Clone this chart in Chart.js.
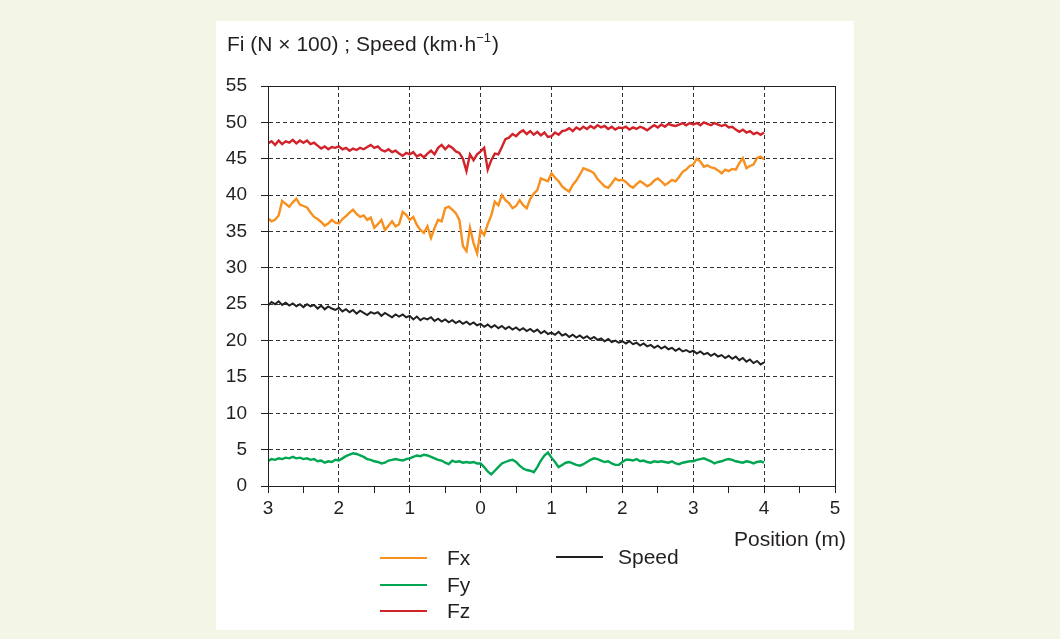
<!DOCTYPE html>
<html>
<head>
<meta charset="utf-8">
<script src="https://cdn.jsdelivr.net/npm/chart.js@4.4.1/dist/chart.umd.min.js"></script>
<style>
  html, body { margin: 0; padding: 0; background: #f3f6e7; }
  #panel { position: absolute; left: 216px; top: 21px; width: 638px; height: 609px; background: #fff; }
</style>
</head>
<body>
<div id="panel"><canvas id="forceChart"></canvas></div>
<script>
// position along the track (m), one sample every 5 cm
const positions = [
  -3, -2.95, -2.9, -2.85, -2.8, -2.75, -2.7, -2.65, -2.6, -2.55,
  -2.5, -2.45, -2.4, -2.35, -2.3, -2.25, -2.2, -2.15, -2.1, -2.05,
  -2, -1.95, -1.9, -1.85, -1.8, -1.75, -1.7, -1.65, -1.6, -1.55,
  -1.5, -1.45, -1.4, -1.35, -1.3, -1.25, -1.2, -1.15, -1.1, -1.05,
  -1, -0.95, -0.9, -0.85, -0.8, -0.75, -0.7, -0.65, -0.6, -0.55,
  -0.5, -0.45, -0.4, -0.35, -0.3, -0.25, -0.2, -0.15, -0.1, -0.05,
  0, 0.05, 0.1, 0.15, 0.2, 0.25, 0.3, 0.35, 0.4, 0.45,
  0.5, 0.55, 0.6, 0.65, 0.7, 0.75, 0.8, 0.85, 0.9, 0.95,
  1, 1.05, 1.1, 1.15, 1.2, 1.25, 1.3, 1.35, 1.4, 1.45,
  1.5, 1.55, 1.6, 1.65, 1.7, 1.75, 1.8, 1.85, 1.9, 1.95,
  2, 2.05, 2.1, 2.15, 2.2, 2.25, 2.3, 2.35, 2.4, 2.45,
  2.5, 2.55, 2.6, 2.65, 2.7, 2.75, 2.8, 2.85, 2.9, 2.95,
  3, 3.05, 3.1, 3.15, 3.2, 3.25, 3.3, 3.35, 3.4, 3.45,
  3.5, 3.55, 3.6, 3.65, 3.7, 3.75, 3.8, 3.85, 3.9, 3.95,
  4
];

const fx = [
  36.8, 36.4, 36.6, 37.2, 39.2, 38.8, 38.4, 39.0, 39.5, 38.7,
  38.5, 38.3, 37.6, 37.0, 36.7, 36.3, 35.8, 36.1, 36.6, 36.2,
  36.1, 36.7, 37.1, 37.6, 38.0, 37.4, 37.0, 37.2, 36.6, 36.9,
  35.5, 36.0, 36.6, 35.2, 35.8, 36.4, 35.7, 36.0, 37.7, 37.3,
  36.6, 37.0, 35.9, 35.2, 34.8, 35.7, 34.1, 35.5, 36.6, 36.4,
  38.2, 38.4, 38.0, 37.5, 36.6, 33.0, 32.3, 35.5, 33.4, 32.0,
  35.2, 34.5, 36.0, 37.2, 39.1, 38.6, 40.0, 39.3, 38.9, 38.2,
  38.5, 39.3, 38.6, 38.2, 39.5, 40.2, 40.7, 42.3, 42.1, 41.9,
  43.0, 42.4, 41.9, 41.2, 40.8, 40.5, 41.4, 42.0, 42.8, 43.7,
  43.5, 43.3, 43.0, 42.2, 41.7, 41.2, 41.0, 41.6, 42.3, 42.0,
  42.1, 41.8, 41.3, 41.0, 41.5, 41.9, 41.6, 41.2, 41.5, 42.0,
  42.3, 41.9, 41.4, 41.7, 42.1, 41.9, 42.5, 43.2, 43.5, 44.0,
  44.2, 45.0, 44.6, 43.9, 44.1, 43.8, 43.7, 43.4, 43.0, 43.5,
  43.3, 43.6, 43.5, 44.4, 45.1, 43.7, 44.0, 44.2, 45.1, 45.3,
  44.9
];

const fy = [
  3.4, 3.7, 3.6, 3.8, 3.7, 3.9, 3.8, 4.0, 3.8, 3.9,
  3.7, 3.8, 3.6, 3.7, 3.4, 3.5, 3.2, 3.4, 3.3, 3.6,
  3.5, 3.8, 4.1, 4.3, 4.5, 4.4, 4.2, 4.0, 3.7, 3.6,
  3.4, 3.3, 3.1, 3.2, 3.5, 3.6, 3.7, 3.6, 3.5, 3.7,
  3.8, 4.0, 4.2, 4.1, 4.3, 4.2, 4.0, 3.8, 3.6, 3.5,
  3.2, 3.0, 3.5, 3.3, 3.4, 3.2, 3.3, 3.2, 3.3, 3.1,
  3.1, 2.6, 2.0, 1.6, 2.1, 2.6, 3.1, 3.3, 3.5, 3.6,
  3.3, 2.8, 2.4, 2.2, 2.1, 1.9, 2.6, 3.5, 4.2, 4.6,
  3.9, 3.3, 2.6, 2.9, 3.2, 3.3, 3.1, 2.9, 2.8, 3.0,
  3.3, 3.6, 3.8, 3.7, 3.5, 3.3, 3.4, 3.1, 2.9, 2.9,
  3.3, 3.6, 3.6, 3.5, 3.7, 3.4, 3.5, 3.3, 3.2, 3.4,
  3.3, 3.4, 3.3, 3.2, 3.4, 3.1, 3.0, 3.2, 3.3, 3.4,
  3.4, 3.6, 3.7, 3.8, 3.6, 3.4, 3.1, 3.3, 3.4, 3.6,
  3.7, 3.6, 3.4, 3.3, 3.2, 3.4, 3.3, 3.1, 3.3, 3.4,
  3.2
];

const fz = [
  47.1, 47.4, 46.9, 47.5, 47.0, 47.4, 47.2, 47.6, 47.1, 47.5,
  47.2, 47.5, 47.0, 47.2, 46.8, 46.4, 46.7, 46.3, 46.6, 46.5,
  46.7, 46.3, 46.5, 46.1, 46.4, 46.2, 46.5, 46.3, 46.6, 46.9,
  46.5, 46.7, 46.2, 46.0, 46.3, 45.9, 46.1, 45.7, 45.4, 45.8,
  45.6, 45.9, 45.3, 45.6, 45.2, 45.7, 46.1, 45.6, 46.5, 46.9,
  46.3, 46.8, 46.5, 46.0, 45.8, 45.0, 43.3, 45.6, 44.8, 45.6,
  46.0, 46.5, 43.5, 44.8, 45.7, 45.6, 46.6, 47.7, 47.9, 48.4,
  48.1, 48.6, 48.9, 48.4, 48.8, 48.3, 48.7, 48.2, 48.6, 48.0,
  48.1, 48.6, 48.3, 48.8, 48.9, 49.2, 48.8, 49.3, 49.0, 49.4,
  49.1, 49.5, 49.2, 49.6, 49.3, 49.5, 49.1, 49.4, 49.0, 49.3,
  49.2, 49.4, 49.0, 49.3, 49.1, 49.4, 49.2, 48.9, 49.3, 49.6,
  49.3, 49.7, 49.4, 49.8, 49.6, 49.5, 49.7, 49.9, 49.6, 49.9,
  49.7, 49.9, 49.6, 50.0, 49.8, 49.6, 49.9, 49.7, 49.5, 49.7,
  49.3, 49.4, 49.0, 48.7, 49.0, 48.6, 48.8, 48.4, 48.6, 48.3,
  48.6
];

const speed = [
  24.8, 25.3, 25.0, 25.4, 24.9, 25.2, 24.8, 25.1, 24.7, 25.0,
  24.6, 25.0, 24.7, 24.9, 24.4, 24.8, 24.3, 24.7, 24.4, 24.2,
  24.5, 24.0, 24.3, 23.9, 24.2, 23.7, 24.1, 23.8, 23.5, 23.9,
  23.7, 23.9, 23.4, 23.8, 23.5, 23.2, 23.6, 23.3, 23.6, 23.2,
  23.4, 22.9, 23.3, 22.8, 23.1, 22.9, 23.2, 22.7, 23.0, 22.6,
  22.9, 22.5, 22.8, 22.4, 22.7, 22.3, 22.6, 22.2, 22.5, 22.1,
  22.3, 21.9, 22.2, 21.8, 22.1, 21.7, 22.0, 21.6, 21.9, 21.5,
  21.8, 21.4, 21.7, 21.3, 21.6, 21.2, 21.5, 21.0, 21.3, 20.9,
  21.1, 20.8, 21.2, 20.7, 20.9, 20.5, 20.8, 20.4, 20.7, 20.3,
  20.6, 20.2, 20.5, 20.1, 20.3, 19.9, 20.2, 19.8, 20.0, 19.7,
  19.9, 19.6, 19.9, 19.5, 19.7, 19.3, 19.6, 19.2, 19.4, 19.0,
  19.3, 18.9, 19.2, 18.8, 19.0, 18.6, 18.9, 18.5, 18.7, 18.4,
  18.6, 18.2, 18.5, 18.1, 18.3, 17.9, 18.2, 17.8, 18.0, 17.6,
  17.9, 17.5, 17.8, 17.3, 17.6, 17.1, 17.4, 16.9, 17.2, 16.7,
  17.0
];

// x axis runs through the start line: distances shown without sign
const xTickLabels = ['3', '2', '1', '0', '1', '2', '3', '4', '5'];
const yTickLabels = ['0', '5', '10', '15', '20', '25', '30', '35', '40', '45', '50', '55'];

const textColor = '#231f20';
const fontFamily = '"Liberation Sans", Arial, sans-serif';

function toPoints(values) {
    return positions.map((x, i) => ({ x, y: values[i] }));
}

// title, axis name, box outline and the two-column legend
const decorPlugin = {
    id: 'decor',
    afterDraw(chart) {
        const { ctx, chartArea: a } = chart;
        ctx.save();
        ctx.strokeStyle = textColor;
        ctx.lineWidth = 1;
        ctx.setLineDash([]);
        ctx.strokeRect(a.left + 0.5, a.top + 0.5, a.right - a.left, a.bottom - a.top);

        ctx.fillStyle = textColor;
        ctx.textBaseline = 'alphabetic';
        ctx.textAlign = 'left';
        let x = 11;
        const y = 30;
        const main = 'Fi (N \u00d7 100) ; Speed (km\u00b7h';
        ctx.font = '21px ' + fontFamily;
        ctx.fillText(main, x, y);
        x += ctx.measureText(main).width;
        ctx.font = '13px ' + fontFamily;
        ctx.fillText('\u22121', x, y - 9);
        x += ctx.measureText('\u22121').width + 1;
        ctx.font = '21px ' + fontFamily;
        ctx.fillText(')', x, y);

        ctx.textAlign = 'right';
        ctx.textBaseline = 'middle';
        ctx.fillText('Position (m)', 630, 519);

        // legend: forces in one column, speed in the next
        const slots = [
            { lineX: 164, textX: 231, y: 537 },
            { lineX: 164, textX: 231, y: 564 },
            { lineX: 164, textX: 231, y: 590 },
            { lineX: 340, textX: 402, y: 536 }
        ];
        ctx.textAlign = 'left';
        chart.data.datasets.forEach((ds, i) => {
            const s = slots[i];
            ctx.strokeStyle = ds.borderColor;
            ctx.lineWidth = 2;
            ctx.beginPath();
            ctx.moveTo(s.lineX, s.y);
            ctx.lineTo(s.lineX + 47, s.y);
            ctx.stroke();
            ctx.fillStyle = textColor;
            ctx.fillText(ds.label, s.textX, s.y + 1);
        });
        ctx.restore();
    }
};

function lineSet(label, values, color, width) {
    return {
        label,
        data: toPoints(values),
        borderColor: color,
        backgroundColor: color,
        borderWidth: width,
        pointRadius: 0,
        tension: 0,
        fill: false
    };
}

const canvas = document.getElementById('forceChart');
new Chart(canvas, {
    type: 'line',
    data: {
        datasets: [
            lineSet('Fx', fx, '#f7901e', 2.4),
            lineSet('Fy', fy, '#00a651', 2.4),
            lineSet('Fz', fz, '#d2232a', 2.4),
            lineSet('Speed', speed, '#231f20', 2)
        ]
    },
    options: {
        responsive: true,
        maintainAspectRatio: false,
        animation: false,
        layout: {
            padding: { top: 65, right: 19, left: 0, bottom: 0 }
        },
        plugins: {
            legend: { display: false },
            tooltip: { enabled: false }
        },
        scales: {
            x: {
                type: 'linear',
                min: -3,
                max: 5,
                afterFit: s => { s.height = 144; },
                border: { color: textColor, width: 1, dash: [4, 3] },
                grid: {
                    color: c => (Number.isInteger(c.tick.value) ? '#333' : 'rgba(0,0,0,0)'),
                    tickColor: textColor,
                    tickBorderDash: [],
                    tickLength: 7
                },
                ticks: {
                    stepSize: 0.5,
                    autoSkip: false,
                    maxRotation: 0,
                    padding: 4,
                    color: textColor,
                    font: { family: fontFamily, size: 19 },
                    callback: v => (Number.isInteger(v) ? xTickLabels[v + 3] : '')
                }
            },
            y: {
                min: 0,
                max: 55,
                afterFit: s => { s.width = 52; },
                border: { color: textColor, width: 1, dash: [4, 3] },
                grid: {
                    color: '#333',
                    tickColor: textColor,
                    tickBorderDash: [],
                    tickLength: 7
                },
                ticks: {
                    stepSize: 5,
                    padding: 14,
                    color: textColor,
                    font: { family: fontFamily, size: 19 },
                    callback: v => yTickLabels[v / 5]
                }
            }
        }
    },
    plugins: [decorPlugin]
});
</script>
</body>
</html>
